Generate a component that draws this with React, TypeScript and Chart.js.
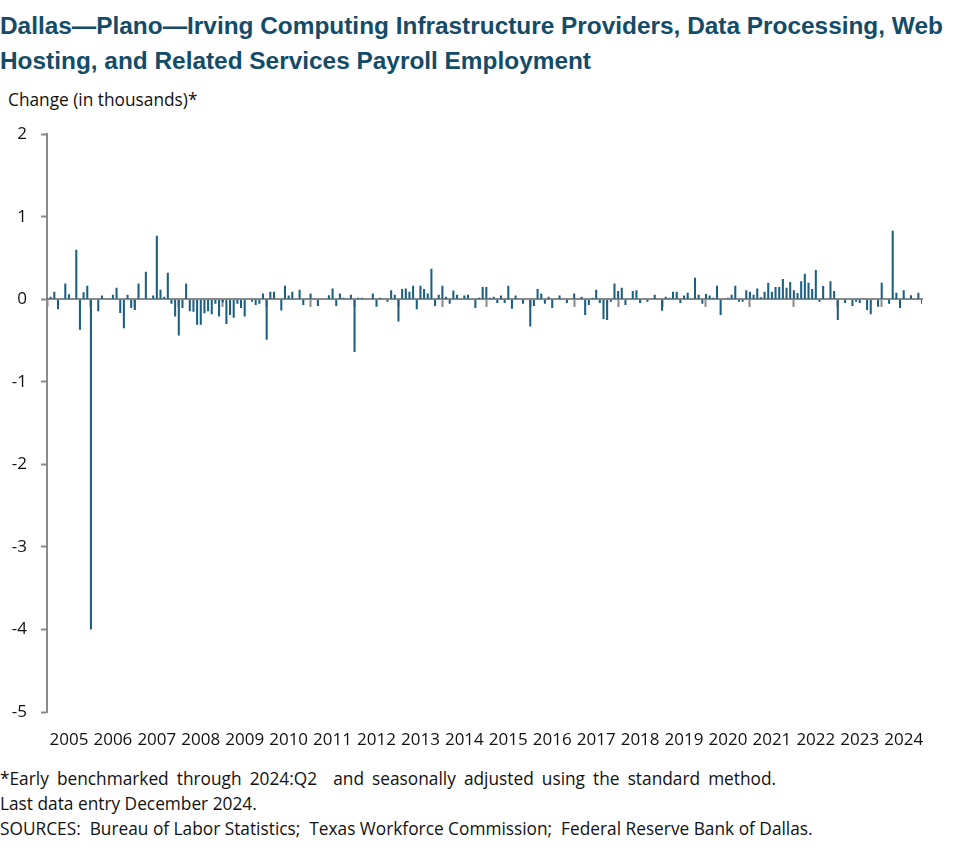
import React, { useEffect, useRef } from "react";
import { Chart, registerables } from "chart.js";

Chart.register(...registerables);

// ---- Data ----
const YEARS = [2005, 2006, 2007, 2008, 2009, 2010, 2011, 2012, 2013, 2014, 2015, 2016, 2017, 2018, 2019, 2020, 2021, 2022, 2023, 2024];
const MONTHS = ["Jan", "Feb", "Mar", "Apr", "May", "Jun", "Jul", "Aug", "Sep", "Oct", "Nov", "Dec"];
const Y_TICKS = [2, 1, 0, -1, -2, -3, -4, -5];

// Monthly change in employment (thousands), Jan 2005 – Dec 2024
const CHANGE_2005_2009 = [
  0.02, 0.03, 0.09, -0.12, 0, 0.19, 0.06, 0, 0.6, -0.37, 0.085, 0.165,
  -4.0, 0, -0.145, 0.045, 0, 0.01, 0.056, 0.14, -0.165, -0.35, 0.056, -0.105,
  -0.13, 0.19, 0, 0.335, 0, 0.045, 0.77, 0.115, 0.03, 0.32, -0.055, -0.21,
  -0.44, -0.105, 0.19, -0.145, -0.15, -0.31, -0.31, -0.17, -0.145, -0.18, -0.055, -0.21,
  -0.04, -0.3, -0.19, -0.225, -0.055, -0.105, -0.21, 0, -0.03, -0.07, -0.055, 0.07,
];
const CHANGE_2010_2014 = [
  -0.49, 0.09, 0.09, 0, -0.135, 0.165, 0.045, 0.09, 0, 0.115, -0.07, 0,
  0.07, 0, -0.08, 0, 0, 0.05, 0.13, -0.08, 0.07, 0.02, 0, 0.056,
  -0.64, 0.02, 0.02, 0, 0, 0.07, -0.09, 0.02, 0, -0.03, 0.11, 0.056,
  -0.27, 0.125, 0.13, 0.09, 0.165, -0.12, 0.165, 0.125, 0.07, 0.37, -0.08, 0.056,
  0.165, 0.03, -0.055, 0.105, 0.056, 0, 0.045, 0.056, 0, -0.105, 0.02, 0.15,
];
const CHANGE_2015_2019 = [
  0.15, 0.02, 0.03, -0.045, 0.045, -0.045, 0.165, -0.115, 0.045, 0, -0.055, 0,
  -0.33, -0.08, 0.125, 0.07, -0.055, 0.03, -0.105, 0, 0.045, 0, -0.045, 0,
  0.07, 0, 0.03, -0.19, -0.07, 0.02, 0.115, -0.045, -0.24, -0.25, -0.03, 0.19,
  0.1, 0.14, -0.07, 0, 0.1, 0.11, -0.045, 0, -0.03, 0, 0.056, 0,
  -0.14, 0.03, 0.02, 0.09, 0.09, -0.045, 0.045, 0.08, 0, 0.26, 0.056, -0.055,
];
const CHANGE_2020_2024 = [
  0.065, 0.045, 0.02, 0.165, -0.19, 0, 0.02, 0.056, 0.165, -0.03, -0.03, 0.11,
  0.09, 0.056, 0.13, 0.025, 0.09, 0.2, 0.09, 0.15, 0.15, 0.245, 0.14, 0.21,
  0.11, 0.075, 0.22, 0.31, 0.2, 0.125, 0.355, -0.03, 0.16, 0, 0.22, 0.1,
  -0.25, 0, -0.045, 0, -0.08, -0.03, -0.045, 0, -0.13, -0.18, 0, -0.09,
  0.2, 0, -0.055, 0.83, 0.08, -0.105, 0.11, 0, 0.05, 0, 0.08, -0.055,
];

const CATEGORIES = YEARS.flatMap((y) => MONTHS.map((m) => `${m} ${y}`));
const CHANGE = [...CHANGE_2005_2009, ...CHANGE_2010_2014, ...CHANGE_2015_2019, ...CHANGE_2020_2024];

// ---- Styles ----
const TITLE_FONT = "'Liberation Sans', Arial, sans-serif";
const FONT = "'Open Sans', 'Liberation Sans', sans-serif";
const TITLE_COLOR = "#134c68";
const BAR_COLOR = "#1a5e80";
const AXIS_COLOR = "#8a8a8a";

export default function App() {
  const canvasRef = useRef<HTMLCanvasElement | null>(null);

  useEffect(() => {
    document.body.style.margin = "0";
    const canvas = canvasRef.current;
    if (!canvas) return;
    const chart = new Chart(canvas, {
      type: "bar",
      data: {
        labels: CATEGORIES,
        datasets: [
          {
            data: CHANGE,
            backgroundColor: BAR_COLOR,
            borderWidth: 0,
            barPercentage: 1,
            categoryPercentage: 0.56,
            xAxisID: "x",
            yAxisID: "y",
          },
        ],
      },
      options: {
        animation: false,
        responsive: false,
        maintainAspectRatio: false,
        events: [],
        layout: { padding: { top: 13, right: 55, left: 0, bottom: 0 } },
        plugins: { legend: { display: false }, tooltip: { enabled: false }, title: { display: false } },
        scales: {
          x: {
            type: "category",
            position: "bottom",
            offset: false,
            grid: { display: false, offset: false },
            border: { display: false },
            ticks: {
              autoSkip: false,
              maxRotation: 0,
              minRotation: 0,
              padding: 10,
              color: "#111",
              font: { family: FONT, size: 17 },
              callback: (_v: any, i: number) => (i % 12 === 6 ? String(YEARS[Math.floor(i / 12)]) : null),
            },
            afterFit: (s: any) => {
              s.height = 53;
            },
          },
          x2: {
            type: "category",
            position: { y: 0 } as any,
            offset: false,
            z: 1,
            grid: {
              drawOnChartArea: false,
              drawTicks: true,
              offset: false,
              tickLength: 7,
              tickWidth: 2,
              tickColor: (ctx: any) => (ctx.index % 12 === 0 ? AXIS_COLOR : "rgba(0,0,0,0)"),
            },
            border: { display: true, color: AXIS_COLOR, width: 2 },
            ticks: { display: false, autoSkip: false },
          },
          y: {
            type: "linear",
            position: "left",
            min: Y_TICKS[Y_TICKS.length - 1],
            max: Y_TICKS[0],
            z: 1,
            afterBuildTicks: (s: any) => {
              s.ticks = Y_TICKS.map((v) => ({ value: v }));
            },
            grid: {
              drawOnChartArea: false,
              drawTicks: true,
              tickLength: 6,
              tickWidth: 2,
              tickColor: AXIS_COLOR,
            },
            border: { display: true, color: AXIS_COLOR, width: 2 },
            ticks: {
              padding: 14,
              color: "#111",
              font: { family: FONT, size: 17 },
              callback: (v: any) => String(v),
            },
            afterFit: (s: any) => {
              s.width = 47;
            },
          },
        },
      },
    });
    return () => chart.destroy();
  }, []);

  return (
    <div style={{ position: "relative", width: 977, height: 864, background: "#fff", fontFamily: FONT, color: "#111" }}>
      <div
        style={{
          position: "absolute",
          left: 0,
          top: 9,
          fontFamily: TITLE_FONT,
          fontSize: 24.4,
          lineHeight: "34.5px",
          fontWeight: 700,
          color: TITLE_COLOR,
          whiteSpace: "nowrap",
        }}
      >
        Dallas—Plano—Irving Computing Infrastructure Providers, Data Processing, Web
        <br />
        Hosting, and Related Services Payroll Employment
      </div>
      <div style={{ position: "absolute", left: 8, top: 90, fontSize: 17.3, lineHeight: "20px", whiteSpace: "nowrap" }}>
        Change (in thousands)*
      </div>
      <div style={{ position: "absolute", left: 0, top: 110, width: 977, height: 655 }}>
        <canvas ref={canvasRef} width={977} height={655} style={{ display: "block", width: 977, height: 655 }} />
      </div>
      <div
        style={{
          position: "absolute",
          left: 0,
          top: 766,
          fontSize: 17.3,
          lineHeight: "25px",
          whiteSpace: "pre",
        }}
      >
        <span style={{ wordSpacing: "3.6px" }}>
          {"*Early benchmarked through 2024:Q2  and seasonally adjusted using the standard method."}
        </span>
        <br />
        {"Last data entry December 2024."}
        <br />
        {"SOURCES:  Bureau of Labor Statistics;  Texas Workforce Commission;  Federal Reserve Bank of Dallas."}
      </div>
    </div>
  );
}
